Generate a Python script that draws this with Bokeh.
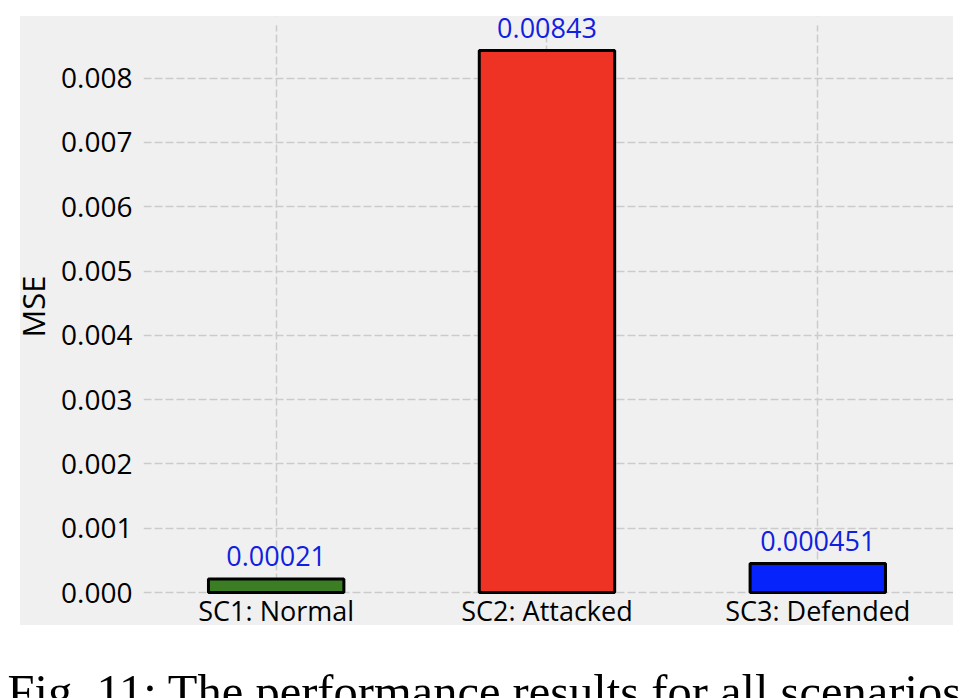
from bokeh.plotting import figure
from bokeh.models import (ColumnDataSource, FixedTicker, LabelSet, Spacer,
                          PrintfTickFormatter, Range1d, BoxAnnotation)
from bokeh.layouts import column, row
from bokeh.core.properties import value
from bokeh.embed import file_html
from bokeh.resources import INLINE

# ---- data ----
categories = ["SC1: Normal", "SC2: Attacked", "SC3: Defended"]
mse_values = [0.00021, 0.00843, 0.000451]
bar_colors = ["#3b7d23", "#ee3224", "#0523fa"]
y_ticks = [0.000, 0.001, 0.002, 0.003, 0.004, 0.005, 0.006, 0.007, 0.008]
y_label = ["MSE"]
caption_text = ["Fig. 11: The performance results for all scenarios."]

FONT = "Open Sans"
BG = "#f0f0f0"
GRID_TOP = 0.00882   # upper end of the axes area (grid extent)

xs = list(range(len(categories)))
src = ColumnDataSource(dict(
    x=xs, top=mse_values, color=bar_colors, cat=categories,
    zero=[0] * len(xs), lab=[str(v) for v in mse_values],
))

# ---- main chart ----
p = figure(width=895, height=609,
           x_range=Range1d(-0.4899, 2.5011), y_range=Range1d(-0.000513, 0.0089594),
           x_axis_location=None,
           output_backend="svg", toolbar_location=None,
           min_border_left=83, min_border_right=0,
           min_border_top=0, min_border_bottom=0)
p.background_fill_color = BG
p.border_fill_color = BG
p.outline_line_color = None

for g in p.grid:
    if g.dimension == 0:
        g.ticker = FixedTicker(ticks=xs)
    else:
        g.ticker = FixedTicker(ticks=y_ticks)
    g.grid_line_color = "#cbcbcb"
    g.grid_line_width = 1.5
    g.grid_line_dash = "8 3"

# hide the grid outside the axes area (category label strip / title strip)
p.add_layout(BoxAnnotation(top=-0.00003, fill_color=BG, fill_alpha=1.0,
                           line_alpha=0, level="underlay"))
p.add_layout(BoxAnnotation(bottom=GRID_TOP, fill_color=BG, fill_alpha=1.0,
                           line_alpha=0, level="underlay"))

p.vbar(x="x", top="top", bottom=0, width=0.5, fill_color="color",
       line_color="black", line_width=3, source=src)

# value labels above bars
p.add_layout(LabelSet(x="x", y="top", text="lab", source=src,
                      text_align="center", text_baseline="alphabetic",
                      y_offset=13, text_color="#1020e0",
                      text_font=value(FONT), text_font_size="27px"))

# category labels below the bars
p.add_layout(LabelSet(x="x", y="zero", text="cat", source=src,
                      text_align="center", text_baseline="alphabetic",
                      y_offset=-28, text_color="black",
                      text_font=value(FONT), text_font_size="27px"))

# y axis
ax = p.yaxis[0]
ax.ticker = FixedTicker(ticks=y_ticks)
ax.formatter = PrintfTickFormatter(format="%.3f")
ax.axis_line_color = None
ax.major_tick_line_color = None
ax.minor_tick_line_color = None
ax.major_tick_out = 0
ax.major_tick_in = 0
ax.major_label_text_font = FONT
ax.major_label_text_font_size = "28px"
ax.major_label_text_color = "black"
ax.major_label_standoff = 11

# ---- y-axis title strip ----
yl = figure(width=38, height=609, x_range=Range1d(0, 38), y_range=Range1d(0, 609),
            x_axis_location=None, y_axis_location=None,
            output_backend="svg", toolbar_location=None, min_border=0)
yl.grid.visible = False
yl.outline_line_color = None
yl.background_fill_color = BG
yl.border_fill_color = BG
yl.text(x=[12], y=[319], text=y_label, angle=90, angle_units="deg",
        text_font=value(FONT), text_font_size="31px", text_color="black",
        text_align="center", text_baseline="middle")

# ---- caption ----
cap = figure(width=965, height=73, x_range=Range1d(0, 965), y_range=Range1d(0, 73),
             x_axis_location=None, y_axis_location=None,
             output_backend="svg", toolbar_location=None, min_border=0)
cap.grid.visible = False
cap.outline_line_color = None
cap.background_fill_color = "white"
cap.border_fill_color = "white"
cap.text(x=[7], y=[7], text=caption_text, text_font=value("Liberation Serif"),
         text_font_size="48.5px", text_color="black", text_align="left",
         text_baseline="alphabetic")

chart = row(yl, p, styles={"background-color": BG})
layout = column(Spacer(height=16), row(Spacer(width=20), chart), cap)

open("out.html", "w").write(file_html(layout, INLINE))
